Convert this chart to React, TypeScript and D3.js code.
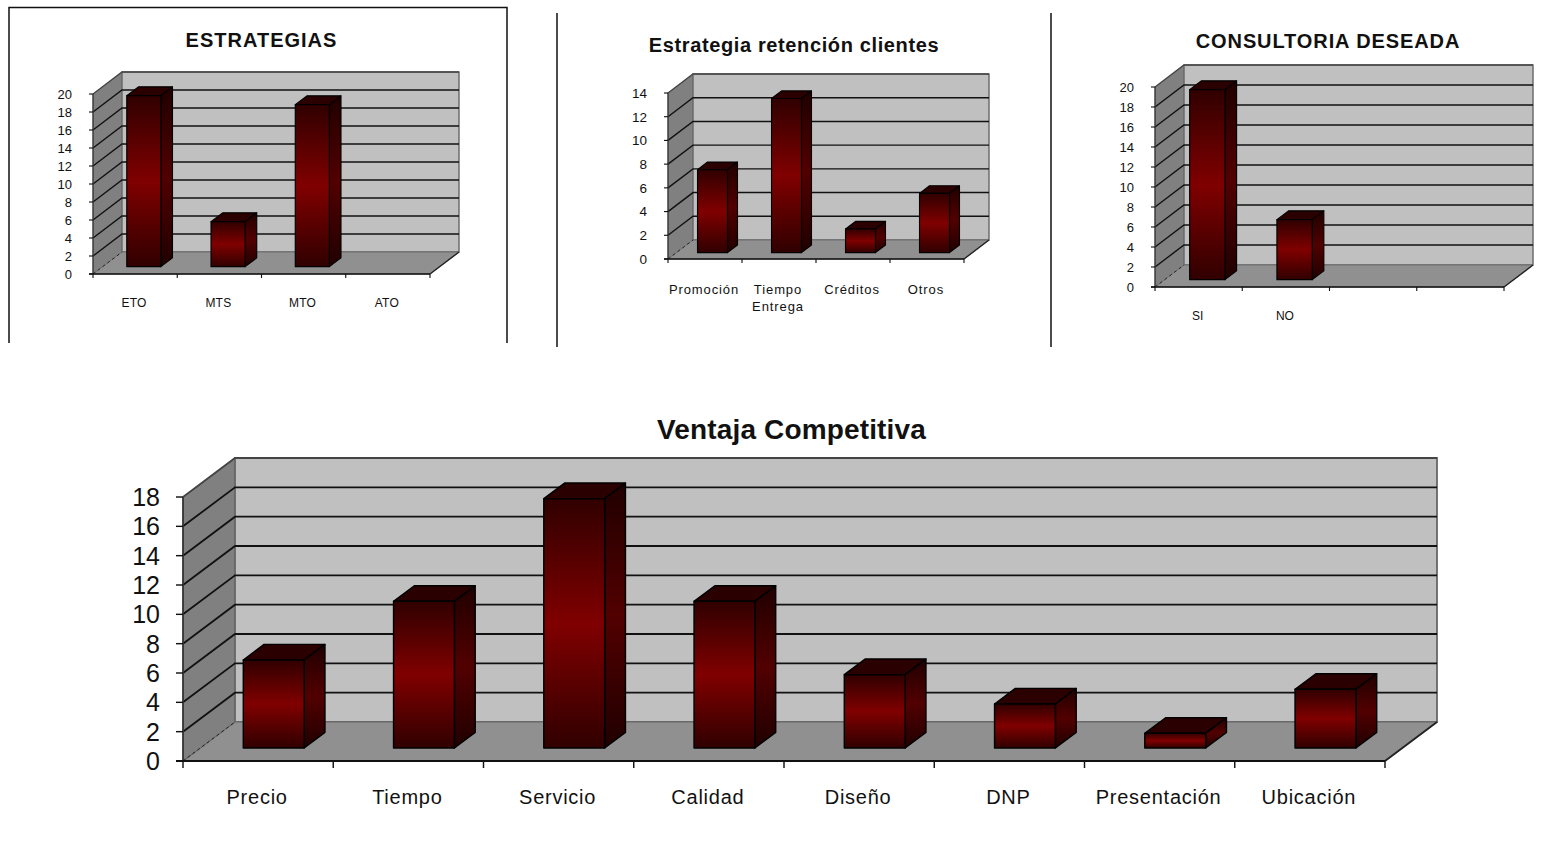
import React from "react";
import * as d3 from "d3";

// Series shown by each chart
const estrategiasCategories = ["ETO", "MTS", "MTO", "ATO"];
const estrategiasValues = [19, 5, 18, 0];

const retencionCategories = ["Promoción", "Tiempo|Entrega", "Créditos", "Otros"];
const retencionValues = [7, 13, 2, 5];

const consultoriaCategories = ["SI", "NO", "", ""];
const consultoriaValues = [19, 6, 0, 0];

const ventajaCategories = ["Precio", "Tiempo", "Servicio", "Calidad", "Diseño", "DNP", "Presentación", "Ubicación"];
const ventajaValues = [6, 10, 17, 10, 5, 3, 1, 4];

const smallTicks20 = d3.range(0, 21, 2);
const smallTicks14 = d3.range(0, 15, 2);
const largeTicks18 = d3.range(0, 19, 2);

type ChartSpec = {
  title: string; titleX: number; titleY: number; titleSize: number; titleSpacing: number;
  categories: string[]; values: number[]; ticks: number[];
  left: number; right: number; bottom: number; top: number;
  depthX: number; depthY: number;
  tickSize: number; tickLen: number; tickGap: number;
  catSize: number; catSpacing: number; catY: number; catLine: number;
  stroke: number;
};

const charts: ChartSpec[] = [
  {
    title: "ESTRATEGIAS", titleX: 261.5, titleY: 47, titleSize: 20, titleSpacing: 1,
    categories: estrategiasCategories, values: estrategiasValues, ticks: smallTicks20,
    left: 93, right: 430, bottom: 274, top: 94, depthX: 29, depthY: 22,
    tickSize: 13, tickLen: 4, tickGap: 21, catSize: 12, catSpacing: 0.2, catY: 307, catLine: 0, stroke: 1.4,
  },
  {
    title: "Estrategia retención clientes", titleX: 794, titleY: 52, titleSize: 20, titleSpacing: 0.62,
    categories: retencionCategories, values: retencionValues, ticks: smallTicks14,
    left: 668, right: 964, bottom: 259, top: 93, depthX: 25, depthY: 19,
    tickSize: 13.5, tickLen: 4, tickGap: 21, catSize: 13, catSpacing: 0.9, catY: 294, catLine: 17, stroke: 1.4,
  },
  {
    title: "CONSULTORIA DESEADA", titleX: 1328, titleY: 48, titleSize: 20, titleSpacing: 0.9,
    categories: consultoriaCategories, values: consultoriaValues, ticks: smallTicks20,
    left: 1155, right: 1504, bottom: 287, top: 87, depthX: 29, depthY: 22,
    tickSize: 13, tickLen: 4, tickGap: 21, catSize: 12, catSpacing: 0, catY: 320, catLine: 0, stroke: 1.4,
  },
  {
    title: "Ventaja Competitiva", titleX: 791.5, titleY: 439, titleSize: 28, titleSpacing: 0.15,
    categories: ventajaCategories, values: ventajaValues, ticks: largeTicks18,
    left: 183, right: 1385, bottom: 761, top: 497, depthX: 52, depthY: 39,
    tickSize: 25, tickLen: 7, tickGap: 23, catSize: 20, catSpacing: 0.75, catY: 804, catLine: 0, stroke: 1.8,
  },
];

const FONT = "'Liberation Sans', Arial, sans-serif";
const BAR_FRONT_X = 0.3;     // horizontal inset of the bar's front face within the chart depth
const BAR_FRONT_Y = 1 / 3;   // vertical lift of the bar's front face within the chart depth
const BAR_DEPTH = 0.4;       // bar depth as a share of the chart depth
const BAR_WIDTH = 0.405;     // bar width as a share of a category band

function pts(list: number[][]) {
  return list.map((p) => p.join(",")).join(" ");
}

function Chart3D({ spec }: { spec: ChartSpec }) {
  const { left, right, bottom, top, depthX, depthY, stroke } = spec;
  const maxTick = spec.ticks[spec.ticks.length - 1];
  const y = d3.scaleLinear().domain([0, maxTick]).range([bottom, top]);
  const x = d3.scaleBand<number>().domain(d3.range(spec.categories.length)).range([left, right]);
  const band = x.bandwidth();
  const edges = [...x.domain().map((i) => x(i) as number), right];

  const barW = band * BAR_WIDTH;
  const shiftX = depthX * BAR_FRONT_X;
  const shiftY = depthY * BAR_FRONT_Y;
  const sideX = depthX * BAR_DEPTH;
  const sideY = depthY * BAR_DEPTH;

  return (
    <g fontFamily={FONT}>
      <text x={spec.titleX} y={spec.titleY} textAnchor="middle" fontSize={spec.titleSize} fontWeight="bold"
        letterSpacing={spec.titleSpacing} fill="#111">
        {spec.title}
      </text>

      {/* side wall, back wall and floor */}
      <polygon points={pts([[left, bottom], [left, top], [left + depthX, top - depthY], [left + depthX, bottom - depthY]])} fill="#808080" />
      <rect x={left + depthX} y={top - depthY} width={right - left} height={bottom - top} fill="#c0c0c0" stroke="#666" strokeWidth={stroke} />
      <polygon points={pts([[left, bottom], [left + depthX, bottom - depthY], [right + depthX, bottom - depthY], [right, bottom]])} fill="#909090" stroke="#666" strokeWidth={stroke * 0.6} />

      {/* gridlines run along the side wall and across the back wall */}
      {spec.ticks.slice(1).map((t) => (
        <polyline key={t} fill="none" stroke={t === maxTick ? "#444" : "#111"} strokeWidth={stroke}
          points={pts([[left, y(t)], [left + depthX, y(t) - depthY], [right + depthX, y(t) - depthY]])} />
      ))}
      <line x1={left} y1={bottom} x2={left + depthX} y2={bottom - depthY} stroke="#222" strokeWidth={1} strokeDasharray="3 3" />
      <line x1={right} y1={bottom} x2={right + depthX} y2={bottom - depthY} stroke="#222" strokeWidth={stroke} />

      {/* axes */}
      <line x1={left} y1={top} x2={left} y2={bottom} stroke="#333" strokeWidth={stroke} />
      <line x1={left - spec.tickLen} y1={bottom} x2={right} y2={bottom} stroke="#111" strokeWidth={stroke} />
      {spec.ticks.map((t) => (
        <g key={t}>
          <line x1={left - spec.tickLen} x2={left} y1={y(t)} y2={y(t)} stroke="#111" strokeWidth={stroke * 0.8} />
          <text x={left - spec.tickGap} y={y(t) + spec.tickSize * 0.36} textAnchor="end" fontSize={spec.tickSize} fill="#111">{t}</text>
        </g>
      ))}
      {edges.map((e) => (
        <line key={e} x1={e} x2={e} y1={bottom} y2={bottom + spec.tickLen} stroke="#111" strokeWidth={stroke * 0.8} />
      ))}

      {/* bars */}
      {spec.values.map((v, i) => {
        if (v <= 0) return null;
        const x0 = (x(i) as number) + (band - barW) / 2 + shiftX;
        const x1 = x0 + barW;
        const yb = y(0) - shiftY;
        const yt = y(v) - shiftY;
        return (
          <g key={i} stroke="#000" strokeWidth={stroke * 0.8} strokeLinejoin="round">
            <polygon fill="#2a0000" points={pts([[x0, yt], [x0 + sideX, yt - sideY], [x1 + sideX, yt - sideY], [x1, yt]])} />
            <polygon fill="url(#barSide)" points={pts([[x1, yt], [x1 + sideX, yt - sideY], [x1 + sideX, yb - sideY], [x1, yb]])} />
            <rect fill="url(#barFront)" x={x0} y={yt} width={barW} height={yb - yt} />
          </g>
        );
      })}

      {/* category labels; "|" marks a line break */}
      {spec.categories.map((c, i) => {
        const cx = (x(i) as number) + band / 2 - 1;
        return c.split("|").map((line, k) => (
          <text key={`${i}-${k}`} x={cx} y={spec.catY + k * spec.catLine} textAnchor="middle"
            fontSize={spec.catSize} letterSpacing={spec.catSpacing} fill="#111">
            {line}
          </text>
        ));
      })}
    </g>
  );
}

export default function App() {
  return (
    <svg width={1553} height={844} viewBox="0 0 1553 844"
      style={{ position: "absolute", left: 0, top: 0, background: "#fff", display: "block" }}>
      <defs>
        <linearGradient id="barFront" x1="0" y1="0" x2="0" y2="1">
          <stop offset="0" stopColor="#300000" />
          <stop offset="0.5" stopColor="#800000" />
          <stop offset="1" stopColor="#300000" />
        </linearGradient>
        <linearGradient id="barSide" x1="0" y1="0" x2="0" y2="1">
          <stop offset="0" stopColor="#200000" />
          <stop offset="0.5" stopColor="#520000" />
          <stop offset="1" stopColor="#200000" />
        </linearGradient>
      </defs>

      {/* frame lines separating the upper charts */}
      <path d="M9 343V7.5H507V343" fill="none" stroke="#111" strokeWidth={1.5} />
      <line x1={557} y1={13} x2={557} y2={347} stroke="#111" strokeWidth={1.5} />
      <line x1={1051} y1={13} x2={1051} y2={347} stroke="#111" strokeWidth={1.5} />

      {charts.map((c) => <Chart3D key={c.title} spec={c} />)}
    </svg>
  );
}
